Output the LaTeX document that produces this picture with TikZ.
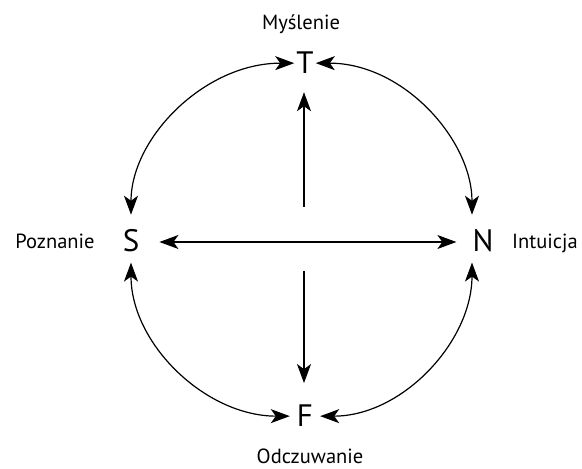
\documentclass[tikz,border=0pt]{standalone}
\usepackage{fontspec}
\setmainfont{PT Sans}
\usetikzlibrary{arrows.meta}
\begin{document}
\begin{tikzpicture}[x=1pt,y=1pt,
  >={Stealth[length=19pt,width=14pt,inset=5pt]},
  conn/.style={line width=1.2pt},
  letter/.style={inner sep=0pt,anchor=base,font=\fontsize{31}{36}\selectfont},
  lab/.style={inner sep=0pt,anchor=base,font=\fontsize{20.5}{24}\selectfont}]
\useasboundingbox (0,0) rectangle (582,469);
% letters
\node[letter] (T) at (305,395) {T};
\node[letter] (S) at (131,217) {S};
\node[letter] (N) at (483,217) {N};
\node[letter] (F) at (305,42) {F};
% labels
\node[lab] (lT) at (301,439) {Myślenie};
\node[lab] (lS) at (55,220) {Poznanie};
\node[lab] (lN) at (545,220) {Intuicja};
\node[lab] (lF) at (310,5) {Odczuwanie};
% centre coordinates
\coordinate (up) at (304,262);
\coordinate (dn) at (304,198);
% straight arrows
\draw[conn,->,shorten >=18pt] (up) -- (up |- T.south);
\draw[conn,->,shorten >=22pt] (dn) -- (dn |- F.north);
\draw[conn,<->,shorten <=20pt,shorten >=16pt] (S.east |- 0,227) -- (N.west |- 0,227);
% arcs
\draw[conn,<->,shorten <=2pt,shorten >=15pt] (T.west) to[out=180,in=90] (S.north);
\draw[conn,<->,shorten <=2pt,shorten >=15pt] (T.east) to[out=0,in=90] ([xshift=-11pt]N.north);
\draw[conn,<->,shorten <=10pt,shorten >=7pt] (S.south) to[out=-90,in=180] (F.west);
\draw[conn,<->,shorten <=10pt,shorten >=7pt] ([xshift=-11pt]N.south) to[out=-90,in=0] (F.east);
\end{tikzpicture}
\end{document}
